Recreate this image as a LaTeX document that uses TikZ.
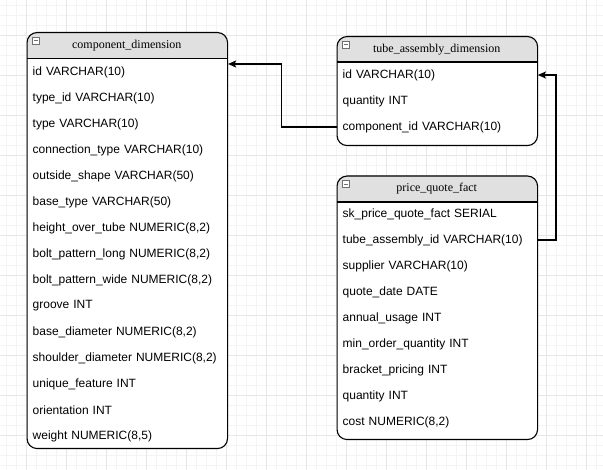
\documentclass[tikz,border=0pt]{standalone}
\usepackage{fontspec}
\setmainfont{Liberation Sans}
\newfontfamily\hdrfont{Liberation Serif}
\usetikzlibrary{arrows.meta}
\definecolor{hdrfill}{HTML}{E0E0E0}
\definecolor{gridminor}{HTML}{F4F4F4}
\definecolor{gridmajor}{HTML}{E6E6E6}
\definecolor{iconborder}{HTML}{707070}
\tikzset{
  tbl/.style={draw=black, line width=1.1pt, rounded corners=10pt, inner sep=0pt},
  rowbox/.style={inner xsep=6pt, inner ysep=0pt, text width=189pt, minimum height=26pt, align=left, font=\fontsize{12}{14}\selectfont},
  hdrtext/.style={inner sep=0pt, font=\hdrfont\fontsize{12}{14}\selectfont},
  conn/.style={draw=black, line width=1.1pt, -{Stealth[length=8pt,width=7pt,inset=1.5pt]}},
  iconbox/.style={draw=iconborder, fill=white, line width=0.6pt, minimum width=7pt, minimum height=7pt, inner sep=0pt},
}
\newcommand{\mktable}[6]{% name, x0, x1, y0, yh, y1
  \begin{scope}
    \clip[rounded corners=10pt] (#2,#4) rectangle (#3,#6);
    \fill[white] (#2,#4) rectangle (#3,#6);
    \fill[hdrfill] (#2,#4) rectangle (#3,#5);
  \end{scope}
  \node[tbl, minimum width={#3-#2}, minimum height={#6-#4}, anchor=north west] (#1) at (#2,#4) {};
  \draw[line width=1.1pt] (#2,#5) -- (#3,#5);
}
\begin{document}
\begin{tikzpicture}[x=1pt,y=-1pt]
\useasboundingbox (0,0) rectangle (603,470);
\fill[white] (0,0) rectangle (603,470);
% grid
\foreach \gx in {6,16,...,603} {\draw[gridminor, line width=0.6pt] (\gx,0) -- (\gx,470);}
\foreach \gy in {5,15,...,470} {\draw[gridminor, line width=0.6pt] (0,\gy) -- (603,\gy);}
\foreach \gx in {26,66,...,603} {\draw[gridmajor, line width=0.6pt] (\gx,0) -- (\gx,470);}
\foreach \gy in {35,75,...,470} {\draw[gridmajor, line width=0.6pt] (0,\gy) -- (603,\gy);}

% component_dimension
\mktable{cd}{26.5}{227}{32}{58.5}{448}
\node[iconbox] (cdicon) at (35.5,40.5) {};
\draw[iconborder, line width=0.7pt] (33.5,40.5) -- (37.5,40.5);
\node[hdrtext] (cdtitle) at (126.75,46) {component\_dimension};
\foreach \i/\t in {1/id VARCHAR(10), 2/type\_id VARCHAR(10), 3/type VARCHAR(10),
  4/connection\_type VARCHAR(10), 5/outside\_shape VARCHAR(50), 6/base\_type VARCHAR(50),
  7/height\_over\_tube NUMERIC(8{,}2), 8/bolt\_pattern\_long NUMERIC(8{,}2),
  9/bolt\_pattern\_wide NUMERIC(8{,}2), 10/groove INT, 11/base\_diameter NUMERIC(8{,}2),
  12/shoulder\_diameter NUMERIC(8{,}2), 13/unique\_feature INT, 14/orientation INT,
  15/weight NUMERIC(8{,}5)} {
  \node[rowbox, anchor=west] (cd-r\i) at (26.5,{72+26*(\i-1)}) {\t};
}

% tube_assembly_dimension
\mktable{ta}{336.5}{537}{36}{62}{145}
\node[iconbox] (taicon) at (345.5,44.5) {};
\draw[iconborder, line width=0.7pt] (343.5,44.5) -- (347.5,44.5);
\node[hdrtext] (tatitle) at (436.75,49.5) {tube\_assembly\_dimension};
\foreach \i/\t in {1/id VARCHAR(10), 2/quantity INT, 3/component\_id VARCHAR(10)} {
  \node[rowbox, anchor=west] (ta-r\i) at (336.5,{75+26*(\i-1)}) {\t};
}

% price_quote_fact
\mktable{pq}{336.5}{537}{175.5}{202}{439}
\node[iconbox] (pqicon) at (345.5,184) {};
\draw[iconborder, line width=0.7pt] (343.5,184) -- (347.5,184);
\node[hdrtext] (pqtitle) at (436.75,189) {price\_quote\_fact};
\foreach \i/\t in {1/sk\_price\_quote\_fact SERIAL, 2/tube\_assembly\_id VARCHAR(10),
  3/supplier VARCHAR(10), 4/quote\_date DATE, 5/annual\_usage INT,
  6/min\_order\_quantity INT, 7/bracket\_pricing INT, 8/quantity INT, 9/cost NUMERIC(8{,}2)} {
  \node[rowbox, anchor=west] (pq-r\i) at (336.5,{214+26*(\i-1)}) {\t};
}

% connectors
\draw[conn] (ta-r3.west) -- (281.5,127) -- (281.5,64) -- (cd.east |- 0,64);
\draw[conn] (pq-r2.east) -- (556,240) -- (556,75) -- (ta-r1.east);
\end{tikzpicture}
\end{document}
